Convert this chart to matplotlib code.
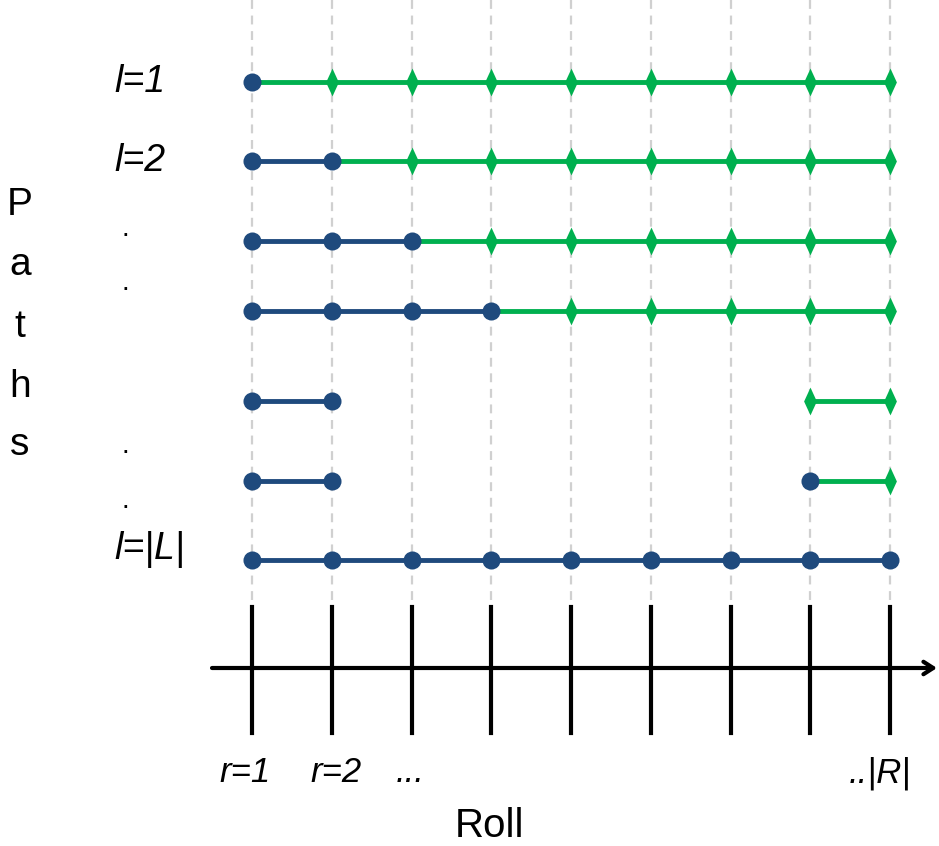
import numpy as np
import matplotlib.pyplot as plt

# -------------------------------------------------------------
# Data: rolls (columns) and paths (rows)
rolls = [1, 2, 3, 4, 5, 6, 7, 8, 9]
path_labels = ["l=1", "l=2", "", "", "", "", "l=|L|"]
# for every path: rolls drawn as blue dots on the first blue run
blue_rolls = [
    [1],
    [1, 2],
    [1, 2, 3],
    [1, 2, 3, 4],
    [1, 2],
    [1, 2],
    [1, 2, 3, 4, 5, 6, 7, 8, 9],
]
# green segment: (start roll, end roll), None if absent
green_span = [(1, 9), (2, 9), (3, 9), (4, 9), (8, 9), (8, 9), None]
# extra blue dots that are not part of the first blue run
extra_blue = [[], [], [], [], [], [8], []]
x_tick_labels = {1: "r=1", 2: "r=2", 3: "...", 9: "..|R|"}

# -------------------------------------------------------------
# Layout (pixel space vertically, roll units horizontally)
W, H = 939, 846
px_per_roll = 79.75
x_first = 252
row_y = [82, 161, 241, 311, 401, 481, 560]


def px2roll(px):
    return 1 + (px - x_first) / px_per_roll


blue = "#1F4A7D"
green = "#00B04F"
thin_diamond = [(0, 1), (0.46, 0), (0, -1), (-0.46, 0), (0, 1)]

fig = plt.figure(figsize=(W / 100, H / 100), dpi=100)
ax = fig.add_axes([0, 0, 1, 1])
ax.set_xlim(px2roll(0), px2roll(W))
ax.set_ylim(H, 0)
ax.axis("off")

# dashed grid lines
for r in rolls:
    ax.plot([r, r], [0, 605], color="#D0D0D0", lw=1.6, ls=(0, (4, 3)), zorder=1)

# paths
for i, y in enumerate(row_y):
    b = blue_rolls[i]
    if len(b) > 1:
        ax.plot([b[0], b[-1]], [y, y], color=blue, lw=3.5, zorder=2)
    g = green_span[i]
    if g is not None:
        ax.plot([g[0], g[1]], [y, y], color=green, lw=3.5, zorder=3)
        dia = [r for r in range(g[0], g[1] + 1) if r not in b + extra_blue[i]]
        ax.plot(dia, [y] * len(dia), ls="none", marker=thin_diamond, ms=20,
                color=green, mew=0, zorder=4)
    dots = b + extra_blue[i]
    ax.plot(dots, [y] * len(dots), ls="none", marker="o", ms=13,
            color=blue, mew=0, zorder=5)

# roll axis
for r in rolls:
    ax.plot([r, r], [607, 733], color="black", lw=3, zorder=2)
ax.annotate("", xy=(px2roll(937), 668), xytext=(px2roll(212), 668),
            arrowprops=dict(arrowstyle="->,head_length=0.7,head_width=0.45",
                            color="black", lw=3, shrinkA=0, shrinkB=0))

font = "Liberation Sans"
tick_centers = {1: 245, 2: 336, 3: 410, 9: 880}
for r, lab in x_tick_labels.items():
    ax.text(px2roll(tick_centers[r]), 773, lab, ha="center", va="center",
            fontsize=25, style="italic", family=font)
ax.text(px2roll(490), 826, "Roll", ha="center", va="center", fontsize=29,
        family=font)

# path labels
label_y = {0: 82, 1: 161, 6: 550}
for i, lab in enumerate(path_labels):
    if lab:
        ax.text(px2roll(114), label_y[i], lab, ha="left", va="center",
                fontsize=27, style="italic", family=font)
for y in [229, 283, 446, 501]:
    ax.text(px2roll(125), y, ".", ha="center", va="center",
            fontsize=20, family=font)

# vertical "Paths" title
for ch, y in zip("Paths", [205, 265, 327, 387, 445]):
    ax.text(px2roll(20), y, ch, ha="center", va="center",
            fontsize=28, family=font)

fig.savefig("out.png", dpi=100)
